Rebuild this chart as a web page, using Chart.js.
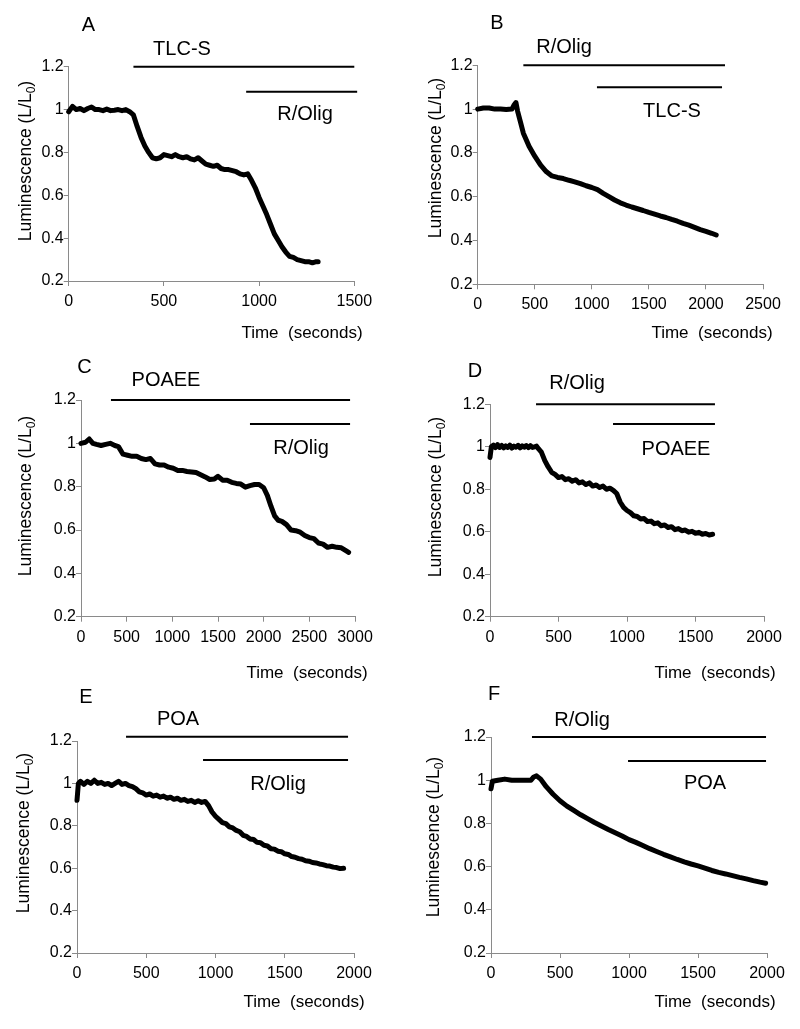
<!DOCTYPE html>
<html>
<head>
<meta charset="utf-8">
<script src="https://cdn.jsdelivr.net/npm/chart.js@4.4.1/dist/chart.umd.min.js"></script>
<style>
html,body{margin:0;padding:0;background:#fff;}
body{width:800px;height:1029px;position:relative;overflow:hidden;}
canvas{position:absolute;}
</style>
</head>
<body>
<canvas id="cA" width="400" height="343" style="left:0px;top:0px"></canvas>
<canvas id="cB" width="400" height="343" style="left:400px;top:0px"></canvas>
<canvas id="cC" width="400" height="343" style="left:0px;top:343px"></canvas>
<canvas id="cD" width="400" height="343" style="left:400px;top:343px"></canvas>
<canvas id="cE" width="400" height="343" style="left:0px;top:686px"></canvas>
<canvas id="cF" width="400" height="343" style="left:400px;top:686px"></canvas>
<script>
// ---------------- DATA ----------------
const yTickValues = [0.2, 0.4, 0.6, 0.8, 1, 1.2];
const xTickStep = 500;

const timeA = [0,20,40,60,80,100,120,140,160,180,200,220,240,260,280,300,320,340,360,380,400,420,440,460,480,500,520,540,560,580,600,620,640,660,680,700,720,740,760,780,800,820,840,860,880,900,920,940,960,980,1000,1020,1040,1060,1080,1100,1120,1140,1160,1180,1200,1220,1240,1260,1280,1300,1310];
const lumA  = [0.99,1.015,1.0,1.005,0.995,1.005,1.012,1.0,1.0,0.995,1.002,0.995,0.997,1.0,0.995,1.0,0.99,0.975,0.92,0.87,0.83,0.80,0.775,0.77,0.775,0.79,0.785,0.78,0.79,0.78,0.775,0.78,0.77,0.765,0.775,0.76,0.745,0.74,0.735,0.74,0.725,0.72,0.72,0.715,0.71,0.70,0.695,0.70,0.67,0.635,0.59,0.55,0.51,0.465,0.42,0.39,0.36,0.335,0.315,0.31,0.30,0.295,0.29,0.29,0.285,0.29,0.29];
const treatNamesA = ['TLC-S','R/Olig'];
const treatStartA = [340, 932];
const treatEndA   = [1500, 1515];
const treatLevelA = [1.2, 1.083];

const timeB = [0,50,100,150,200,250,300,320,335,350,375,400,450,500,550,600,650,700,750,800,850,900,950,1000,1050,1100,1150,1200,1250,1300,1350,1400,1450,1500,1550,1600,1650,1700,1750,1800,1850,1900,1950,2000,2050,2090];
const lumB  = [1.0,1.005,1.005,1.0,1.0,0.998,1.0,1.02,1.03,0.99,0.94,0.89,0.83,0.785,0.745,0.715,0.695,0.688,0.683,0.675,0.668,0.66,0.65,0.642,0.632,0.615,0.60,0.585,0.572,0.562,0.553,0.545,0.537,0.528,0.52,0.512,0.505,0.496,0.488,0.478,0.47,0.46,0.45,0.442,0.433,0.425];
const treatNamesB = ['R/Olig','TLC-S'];
const treatStartB = [400, 1045];
const treatEndB   = [2167, 2141];
const treatLevelB = [1.2, 1.10];

const timeC = [0,50,90,130,170,220,270,320,370,410,460,510,560,610,660,710,760,810,860,910,960,1010,1060,1110,1160,1210,1260,1310,1360,1410,1460,1500,1550,1600,1650,1700,1750,1800,1850,1900,1950,2000,2040,2080,2120,2160,2200,2250,2300,2350,2400,2450,2500,2550,2600,2650,2700,2750,2800,2850,2900,2930];
const lumC  = [1.0,1.005,1.02,1.0,0.995,0.99,0.995,1.0,0.99,0.985,0.95,0.945,0.94,0.94,0.93,0.925,0.93,0.905,0.9,0.9,0.89,0.885,0.875,0.875,0.87,0.868,0.865,0.855,0.845,0.833,0.835,0.848,0.83,0.83,0.82,0.815,0.812,0.798,0.805,0.81,0.81,0.795,0.76,0.71,0.665,0.645,0.64,0.625,0.6,0.597,0.59,0.575,0.565,0.56,0.54,0.535,0.52,0.525,0.52,0.518,0.505,0.497];
const treatNamesC = ['POAEE','R/Olig'];
const treatStartC = [328, 1850];
const treatEndC   = [2946, 2946];
const treatLevelC = [1.2, 1.089];

const timeD = [0,10,25,40,55,70,85,100,115,130,145,160,175,190,205,220,235,250,265,280,295,310,325,340,355,375,400,425,450,475,500,525,550,575,600,625,650,675,700,725,750,775,800,825,850,875,900,925,950,975,1000,1025,1050,1075,1100,1125,1150,1175,1200,1225,1250,1275,1300,1325,1350,1375,1400,1425,1450,1475,1500,1525,1550,1575,1600,1625];
const lumD  = [0.95,1.0,1.008,0.996,1.01,0.997,1.006,0.995,1.004,0.997,1.008,0.994,1.003,0.998,1.007,0.995,1.004,0.998,1.006,0.996,1.005,0.997,1.0,1.003,0.99,0.975,0.935,0.905,0.88,0.87,0.855,0.86,0.845,0.85,0.838,0.845,0.83,0.835,0.822,0.83,0.815,0.82,0.808,0.815,0.8,0.805,0.795,0.78,0.74,0.715,0.7,0.69,0.675,0.672,0.66,0.662,0.648,0.65,0.638,0.642,0.628,0.632,0.62,0.624,0.61,0.615,0.605,0.608,0.598,0.602,0.593,0.597,0.588,0.592,0.585,0.588];
const treatNamesD = ['R/Olig','POAEE'];
const treatStartD = [336, 898];
const treatEndD   = [1642, 1642];
const treatLevelD = [1.2, 1.107];

const timeE = [0,10,25,50,75,100,125,150,175,200,225,250,275,300,325,350,375,400,425,450,475,500,525,550,575,600,625,650,675,700,725,750,775,800,825,850,875,900,925,950,975,1000,1025,1050,1075,1100,1125,1150,1175,1200,1225,1250,1275,1300,1325,1350,1375,1400,1425,1450,1475,1500,1525,1550,1575,1600,1625,1650,1675,1700,1725,1750,1775,1800,1825,1850,1875,1900,1925];
const lumE  = [0.92,1.0,1.01,0.995,1.01,1.0,1.015,1.0,1.005,0.995,1.0,0.99,1.0,1.01,0.995,1.0,0.99,0.985,0.975,0.96,0.955,0.945,0.95,0.94,0.945,0.935,0.94,0.93,0.935,0.925,0.93,0.92,0.925,0.915,0.92,0.91,0.918,0.91,0.915,0.895,0.865,0.845,0.83,0.815,0.81,0.795,0.79,0.778,0.772,0.755,0.75,0.738,0.735,0.722,0.72,0.708,0.705,0.692,0.69,0.68,0.678,0.668,0.665,0.655,0.652,0.645,0.642,0.635,0.633,0.627,0.625,0.62,0.617,0.612,0.61,0.605,0.603,0.598,0.6];
const treatNamesE = ['POA','R/Olig'];
const treatStartE = [354, 910];
const treatEndE   = [1957, 1957];
const treatLevelE = [1.22, 1.11];

const timeF = [0,10,50,100,150,200,250,290,310,330,360,400,450,500,550,600,650,700,750,800,850,900,950,1000,1050,1100,1150,1200,1250,1300,1350,1400,1450,1500,1550,1600,1650,1700,1750,1800,1850,1900,1950,1990];
const lumF  = [0.96,0.995,1.0,1.005,1.0,1.0,1.0,1.0,1.015,1.02,1.005,0.97,0.935,0.905,0.88,0.86,0.84,0.822,0.804,0.788,0.772,0.757,0.742,0.725,0.712,0.698,0.683,0.67,0.657,0.645,0.633,0.622,0.612,0.603,0.593,0.582,0.573,0.566,0.558,0.55,0.543,0.535,0.528,0.523];
const treatNamesF = ['R/Olig','POA'];
const treatStartF = [297, 993];
const treatEndF   = [1993, 1993];
const treatLevelF = [1.2, 1.089];

const xMaxA = 1500, xMaxB = 2500, xMaxC = 3000, xMaxD = 2000, xMaxE = 2000, xMaxF = 2000;
const yTitleText = 'Luminescence (L/L';
const yTitleSub = '0';
const xTitleText = 'Time  (seconds)';

// ---------------- LAYOUT (page pixels) ----------------
const FONT = '"Liberation Sans", Arial, Helvetica, sans-serif';
const layouts = {
  A:{cx:0,  cy:0,   L:68.7, R:354.3, T:66.7,  B:281,   letter:[88.5,23.5], labels:[[182,48],[305,113]],  yTitle:[25,161],  xTitle:[302,332]},
  B:{cx:400,cy:0,   L:477.7,R:763,   T:65.3,  B:284.3, letter:[497,22],    labels:[[564,46],[672,110]],  yTitle:[435,158], xTitle:[712,332]},
  C:{cx:0,  cy:343, L:81,   R:355,   T:400,   B:616.7, letter:[84.5,366],  labels:[[166,379],[301,447]], yTitle:[25,496],  xTitle:[307,672]},
  D:{cx:400,cy:343, L:490,  R:764,   T:404.3, B:616.7, letter:[475,370],   labels:[[577,382],[676,448]], yTitle:[435,497], xTitle:[715,672]},
  E:{cx:0,  cy:686, L:77,   R:354,   T:741,   B:953,   letter:[86,696],    labels:[[178,718],[278,783]], yTitle:[23,833],  xTitle:[304,1001]},
  F:{cx:400,cy:686, L:491,  R:767,   T:737,   B:953,   letter:[494,693],   labels:[[582,719],[705,782]], yTitle:[433,837], xTitle:[715,1001]}
};

const panelData = {
  A:{t:timeA,v:lumA,names:treatNamesA,s:treatStartA,e:treatEndA,l:treatLevelA,xMax:xMaxA},
  B:{t:timeB,v:lumB,names:treatNamesB,s:treatStartB,e:treatEndB,l:treatLevelB,xMax:xMaxB},
  C:{t:timeC,v:lumC,names:treatNamesC,s:treatStartC,e:treatEndC,l:treatLevelC,xMax:xMaxC},
  D:{t:timeD,v:lumD,names:treatNamesD,s:treatStartD,e:treatEndD,l:treatLevelD,xMax:xMaxD},
  E:{t:timeE,v:lumE,names:treatNamesE,s:treatStartE,e:treatEndE,l:treatLevelE,xMax:xMaxE},
  F:{t:timeF,v:lumF,names:treatNamesF,s:treatStartF,e:treatEndF,l:treatLevelF,xMax:xMaxF}
};

function capText(ctx, text, x, y, size) {
  ctx.font = size + 'px ' + FONT;
  ctx.textAlign = 'center';
  ctx.textBaseline = 'alphabetic';
  ctx.fillText(text, x, y + 0.358 * size);
}

const textPlugin = {
  id: 'panelText',
  afterDraw(chart, args, opts) {
    const ctx = chart.ctx;
    const p = opts.lay, d = opts.data, name = opts.name;
    const dx = p.cx, dy = p.cy;
    ctx.save();
    ctx.fillStyle = '#000';
    capText(ctx, name, p.letter[0]-dx, p.letter[1]-dy, 20);
    d.names.forEach((n, i) => capText(ctx, n, p.labels[i][0]-dx, p.labels[i][1]-dy, 20));
    capText(ctx, xTitleText, p.xTitle[0]-dx, p.xTitle[1]-dy, 17);
    // rotated y title with subscript
    ctx.translate(p.yTitle[0]-dx, p.yTitle[1]-dy);
    ctx.rotate(-Math.PI/2);
    ctx.textAlign = 'left';
    ctx.textBaseline = 'alphabetic';
    const fs = 17.5, ss = 12;
    ctx.font = fs + 'px ' + FONT;
    const w1 = ctx.measureText(yTitleText).width;
    const w3 = ctx.measureText(')').width;
    ctx.font = ss + 'px ' + FONT;
    const w2 = ctx.measureText(yTitleSub).width;
    const total = w1 + w2 + w3;
    const base = 0.358 * fs;
    let x0 = -total/2;
    ctx.font = fs + 'px ' + FONT;
    ctx.fillText(yTitleText, x0, base);
    ctx.font = ss + 'px ' + FONT;
    ctx.fillText(yTitleSub, x0 + w1, base + 3.5);
    ctx.font = fs + 'px ' + FONT;
    ctx.fillText(')', x0 + w1 + w2, base);
    ctx.restore();
  }
};

const AXIS = '#8a8a8a';

function makeChart(name) {
  const p = layouts[name], d = panelData[name];
  const W = 400, H = 343;
  const datasets = [{
    data: d.t.map((t, i) => ({x: t, y: d.v[i]})),
    borderColor: '#000', borderWidth: 5, pointRadius: 0,
    borderJoinStyle: 'round', borderCapStyle: 'round', tension: 0, clip: false, fill: false
  }];
  d.s.forEach((s, i) => {
    datasets.push({
      data: [{x: s, y: d.l[i]}, {x: d.e[i], y: d.l[i]}],
      borderColor: '#000', borderWidth: 2, pointRadius: 0, clip: false, fill: false
    });
  });
  const L = p.L - p.cx, R = p.R - p.cx, T = p.T - p.cy, B = p.B - p.cy;
  new Chart(document.getElementById('c' + name), {
    type: 'line',
    data: {datasets},
    options: {
      responsive: false, animation: false, events: [],
      layout: {padding: {left: 0, top: T, right: W - R, bottom: 0}},
      plugins: {legend: {display: false}, tooltip: {enabled: false}, title: {display: false},
                panelText: {lay: p, data: d, name: name}},
      scales: {
        x: {
          type: 'linear', min: 0, max: d.xMax, offset: false,
          ticks: {stepSize: xTickStep, color: '#000', font: {family: FONT, size: 16}, padding: 6, maxRotation: 0,
                  autoSkip: false, callback: v => String(v)},
          grid: {drawOnChartArea: false, drawTicks: true, tickLength: 5, color: AXIS},
          border: {color: AXIS, width: 1},
          afterFit: s => { s.height = H - B; }
        },
        y: {
          type: 'linear', min: 0.2, max: 1.2,
          afterBuildTicks: s => { s.ticks = yTickValues.map(v => ({value: v})); },
          ticks: {color: '#000', font: {family: FONT, size: 16}, padding: 0,
                  callback: v => String(+Number(v).toFixed(1))},
          grid: {drawOnChartArea: false, drawTicks: true, tickLength: 5, color: AXIS},
          border: {color: AXIS, width: 1},
          afterFit: s => { s.width = L; }
        }
      }
    },
    plugins: [textPlugin]
  });
}

['A','B','C','D','E','F'].forEach(makeChart);
</script>
</body>
</html>
